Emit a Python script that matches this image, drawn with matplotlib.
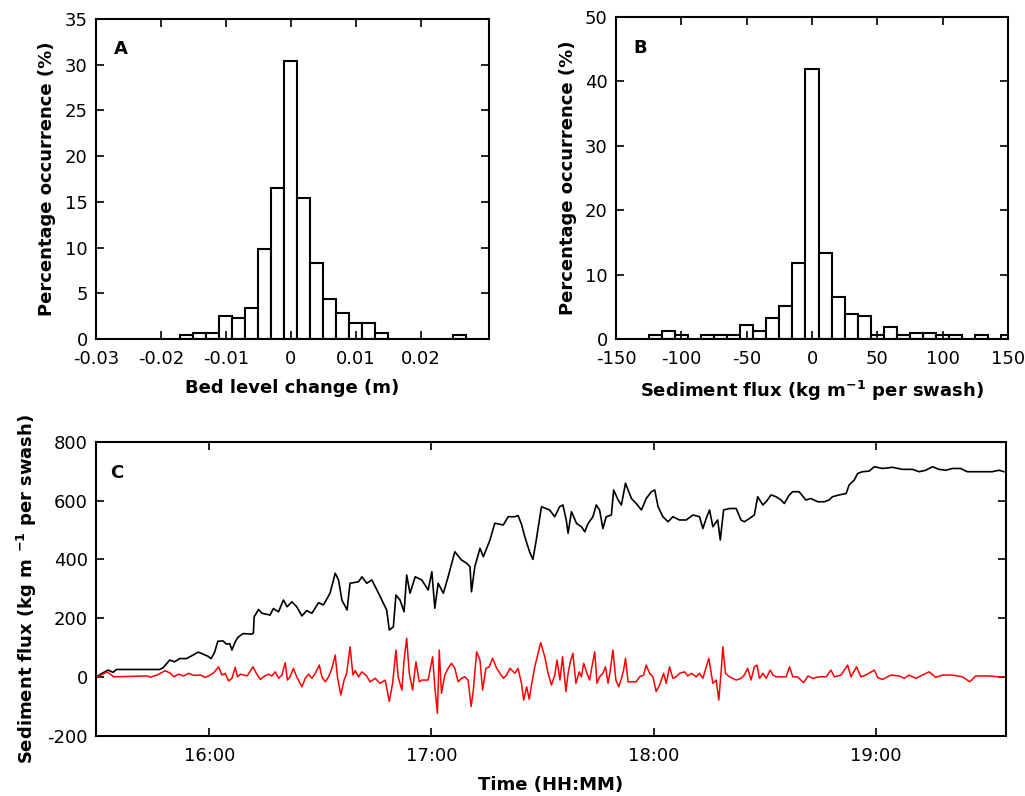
import matplotlib
matplotlib.use('Agg')

matplotlib.rcParams['font.family'] = 'DejaVu Sans'
matplotlib.rcParams['mathtext.fontset'] = 'dejavusans'
matplotlib.rcParams['font.size'] = 13
matplotlib.rcParams['axes.unicode_minus'] = False

import matplotlib.pyplot as plt

# --- panel A: bed level change histogram (bin width 0.002 m)
bed_centres = [-0.016, -0.014, -0.012, -0.010, -0.008, -0.006, -0.004, -0.002,
               0.0, 0.002, 0.004, 0.006, 0.008, 0.010, 0.012, 0.014, 0.026]
bed_pct = [0.45, 0.65, 0.65, 2.55, 2.26, 3.35, 9.9, 16.5,
           30.4, 15.4, 8.35, 4.4, 2.9, 1.7, 1.7, 0.65, 0.45]

# --- panel B: sediment flux histogram (bin width 10)
flux_centres = [-120, -110, -100, -80, -70, -60, -50, -40, -30, -20, -10, 0,
                10, 20, 30, 40, 50, 60, 70, 80, 90, 100, 110, 130, 150]
flux_pct = [0.6, 1.2, 0.6, 0.6, 0.6, 0.6, 2.2, 1.2, 3.3, 5.1, 11.8, 42.0,
            13.3, 6.6, 3.9, 3.6, 0.6, 1.8, 0.6, 0.9, 0.9, 0.6, 0.6, 0.6, 0.6]

# --- panel C: time series, time in minutes after 15:00
cum_t = [29.5, 30.6, 32.7, 34.0, 34.9, 46.6, 47.5, 49.3, 50.6, 52.0, 53.8, 55.6,
         57.0, 58.3, 59.6, 60.5, 61.4, 62.3, 63.7, 64.6, 65.5, 66.1, 67.0, 67.7,
         69.1, 71.3, 71.9, 72.1, 73.3, 74.2, 76.4, 77.3, 78.7, 80.0, 81.0, 82.3,
         83.6, 85.0, 86.3, 87.7, 89.5, 90.8, 92.6, 94.0, 94.9, 95.8, 97.2, 98.0,
         100.3, 101.2, 102.5, 103.9, 105.7, 107.0, 107.9, 108.6, 109.7, 110.4,
         111.5, 112.6, 113.3, 114.2, 115.6, 117.4, 119.1, 120.1, 120.9, 121.8,
         123.2, 124.5, 126.3, 128.1, 129.5, 130.4, 130.8, 131.7, 133.1, 134.0,
         135.8, 137.1, 139.4, 140.7, 142.5, 143.4, 144.3, 145.2, 146.5, 147.4,
         148.3, 149.7, 151.9, 153.3, 154.6, 155.5, 156.4, 156.9, 157.8, 159.2,
         160.5, 161.4, 162.3, 163.6, 164.5, 165.4, 166.3, 167.2, 168.6, 169.2,
         170.4, 171.3, 172.4, 174.0, 175.3, 176.7, 178.0, 179.4, 180.3, 181.2,
         182.5, 183.9, 185.2, 187.0, 188.8, 190.6, 192.4, 193.3, 194.2, 195.1,
         196.0, 197.3, 198.0, 198.9, 200.5, 202.3, 203.6, 204.5, 205.9, 207.2,
         208.1, 209.5, 210.4, 211.7, 213.1, 214.4, 215.3, 216.6, 217.5, 219.3,
         221.1, 222.5, 224.3, 226.1, 227.4, 228.3, 230.1, 232.0, 232.8, 234.2,
         235.1, 236.4, 238.2, 239.6, 241.8, 244.5, 247.2, 249.9, 251.7, 253.5,
         255.3, 257.1, 258.9, 260.7, 262.9, 264.7, 267.9, 271.4, 273.3, 274.6]
cum_flux = [0, 10, 24, 16, 26, 26, 32, 58, 52, 63, 63, 75,
            85, 78, 71, 63, 84, 122, 123, 112, 114, 92, 120, 135,
            148, 146, 149, 205, 230, 217, 211, 233, 222, 262, 239, 256,
            239, 208, 226, 217, 253, 245, 285, 353, 330, 262, 228, 319,
            324, 341, 319, 330, 285, 251, 228, 160, 171, 279,
            262, 222, 347, 285, 341, 330, 296, 358, 234, 319,
            285, 341, 426, 398, 387, 375, 290, 375, 438, 409,
            466, 523, 517, 545, 545, 549, 520, 477, 426, 400,
            466, 579, 568, 545, 579, 585, 534, 489, 562, 522,
            511, 494, 522, 545, 585, 568, 505, 545, 551, 636,
            602, 585, 659, 607, 590, 568, 607, 630, 636, 579,
            545, 528, 545, 534, 534, 551, 545, 505, 539, 568,
            511, 534, 466, 568, 573, 573, 534, 528, 539, 551,
            613, 585, 596, 619, 613, 602, 590, 618, 630, 630,
            602, 607, 596, 596, 602, 613, 619, 624, 653, 670,
            692, 698, 700, 715, 709, 713, 706, 706, 698, 703,
            715, 706, 703, 709, 709, 698, 698, 698, 703, 698]

swash_t = [29.7, 32.4, 34.2, 43.2, 44.1, 45.9, 46.8, 48.1, 49.5, 50.4, 51.7, 53.1,
           54.4, 55.8, 57.6, 58.9, 59.8, 61.2, 62.5, 63.4, 64.3, 65.2, 66.1, 67.0,
           67.6, 68.4, 70.2, 71.8, 72.7, 73.8, 74.6, 76.0, 76.9, 77.8, 78.7, 79.6,
           80.5, 81.1, 81.8, 82.7, 83.6, 85.0, 85.9, 86.8, 87.7, 88.6, 89.7, 90.4,
           91.3, 92.2, 93.1, 94.0, 94.6, 95.5, 96.4, 97.1, 98.0, 98.8, 99.4, 100.3,
           101.2, 102.5, 103.4, 104.8, 106.1, 107.5, 108.6, 109.5, 110.4, 111.0,
           112.0, 112.6, 113.3, 114.0, 114.9, 115.8, 116.7, 117.4, 119.1, 120.3,
           120.9, 121.6, 122.1, 122.7, 123.6, 124.5, 125.4, 126.3, 127.2, 128.1,
           129.0, 129.9, 130.7, 131.3, 132.2, 133.1, 133.8, 134.7, 135.6, 136.5,
           137.6, 138.5, 139.4, 140.3, 141.2, 142.5, 143.4, 144.3, 144.9, 145.7,
           146.4, 147.1, 147.9, 148.8, 149.5, 150.6, 151.5, 152.4, 153.3, 153.9,
           154.7, 155.4, 156.3, 156.9, 157.5, 158.2, 159.0, 159.9, 160.5, 161.1,
           162.0, 162.7, 163.5, 164.1, 164.7, 165.4, 166.3, 167.0, 167.7, 168.3,
           169.0, 169.8, 170.6, 171.3, 171.9, 172.4, 173.1, 174.0, 175.3, 176.2,
           177.3, 178.0, 178.9, 179.8, 180.7, 181.6, 182.7, 183.4, 184.3, 185.2,
           186.1, 187.0, 188.4, 189.2, 190.2, 191.5, 192.4, 193.3, 194.2, 194.9,
           196.0, 196.9, 197.6, 198.2, 198.7, 199.4, 200.5, 202.3, 203.6, 204.5,
           205.4, 206.3, 207.2, 207.9, 208.6, 209.5, 210.4, 211.5, 212.2, 213.1,
           214.4, 215.8, 216.7, 217.6, 218.9, 220.5, 221.7, 223.0, 224.8, 226.6,
           227.9, 228.8, 230.6, 232.4, 233.3, 234.8, 236.0, 237.3, 239.6, 240.5,
           241.8, 244.1, 246.3, 247.7, 249.0, 250.8, 252.6, 254.4, 256.2, 258.0,
           260.7, 263.4, 265.4, 267.0, 270.6, 273.3, 274.6]
swash_flux = [0, 18, 1, 4, 0, 7, 13, 22, 13, 1, 10, 4,
              13, 6, 7, -1, 4, 15, 35, 7, 13, -13, -4, 33,
              1, 10, 4, 35, 13, -8, 1, 10, 4, 18, -4, 7,
              49, -10, 1, 30, 1, -33, -4, 10, -4, 13, 41, 1,
              -16, 1, 30, 75, 1, -61, -10, 13, 103, 7, 22, 1,
              18, 4, -16, -4, -21, -10, -83, -21, 92, 1,
              -44, 58, 132, 13, -44, 52, -16, -10, -10, 69,
              -33, -123, 92, -55, 7, 30, 47, 30, -16, -4,
              1, -10, -100, -44, 86, 58, -44, 30, 35, 64,
              30, 13, -4, 7, 30, 13, 30, -21, -78, -33,
              -75, -21, 35, 81, 117, 69, 13, -27, 7, 58,
              -10, 69, -49, 13, 52, 81, -21, 18, 1, 47,
              13, -10, 47, 86, -21, 1, 13, 35, -21, 24,
              92, -10, -33, -4, 24, 64, -16, -16, -16, 1,
              7, 41, 13, 1, -49, -27, 13, -21, 35, -4,
              1, 13, 18, 4, 13, 1, 13, -4, 35, 64,
              -21, -10, -78, 13, 103, 13, 1, -10, -4, 7,
              30, -10, 35, 41, -4, 13, -4, 24, 7, 1,
              1, 1, 35, 1, 1, -19, 4, -4, 1, 1,
              24, 1, 7, 41, 1, 35, 1, 7, 24, -1,
              -8, 7, 4, -4, 7, -4, 7, 18, -1, 7,
              7, 1, -16, 4, 4, 1, 1]

hour_ticks = [16, 17, 18, 19]


def style_box(ax):
    ax.tick_params(direction='in', top=True, right=True, length=6, width=1.2,
                   labelsize=13)
    ax.tick_params(axis='x', pad=8)
    ax.tick_params(axis='y', pad=6)
    for s in ax.spines.values():
        s.set_linewidth(1.5)


fig = plt.figure(figsize=(10.25, 7.96), dpi=100)

# A
axA = fig.add_axes([0.0937, 0.5741, 0.3834, 0.402])
axA.bar(bed_centres, bed_pct, width=0.002, color='white', edgecolor='black',
        linewidth=1.5)
axA.set_xlim(-0.03, 0.0305)
axA.set_ylim(0, 35)
axA.set_xticks([-0.03, -0.02, -0.01, 0, 0.01, 0.02])
axA.set_xticklabels(['-0.03', '-0.02', '-0.01', '0', '0.01', '0.02'])
axA.set_yticks(range(0, 36, 5))
axA.set_xlabel('Bed level change (m)', fontweight='bold', labelpad=8)
axA.set_ylabel('Percentage occurrence (%)', fontweight='bold', labelpad=6)
axA.text(0.045, 0.905, 'A', transform=axA.transAxes, fontweight='bold',
         va='center', ha='left')
style_box(axA)

# B
axB = fig.add_axes([0.601, 0.5741, 0.3824, 0.4045])
axB.bar(flux_centres, flux_pct, width=10, color='white', edgecolor='black',
        linewidth=1.5)
axB.set_xlim(-150, 150)
axB.set_ylim(0, 50)
axB.set_xticks(range(-150, 151, 50))
axB.set_yticks(range(0, 51, 10))
axB.set_xlabel(r'Sediment flux (kg m$^{\mathbf{-1}}$ per swash)',
               fontweight='bold', labelpad=8)
axB.set_ylabel('Percentage occurrence (%)', fontweight='bold', labelpad=6)
axB.text(0.045, 0.905, 'B', transform=axB.transAxes, fontweight='bold',
         va='center', ha='left')
style_box(axB)

# C
axC = fig.add_axes([0.0937, 0.0754, 0.8875, 0.3697])
axC.plot([t / 60 + 15 for t in cum_t], cum_flux, color='black', lw=1.2)
axC.plot([t / 60 + 15 for t in swash_t], swash_flux, color='red', lw=1.1)
axC.set_xlim(15.49, 19.585)
axC.set_ylim(-200, 800)
axC.set_xticks(hour_ticks)
axC.set_xticklabels(['%d:00' % h for h in hour_ticks])
axC.set_yticks(range(-200, 801, 200))
axC.set_xlabel('Time (HH:MM)', fontweight='bold', labelpad=8)
axC.set_ylabel(r'Sediment flux (kg m $^{\mathbf{-1}}$ per swash)',
               fontweight='bold', labelpad=6)
axC.text(0.016, 0.894, 'C', transform=axC.transAxes, fontweight='bold',
         va='center', ha='left')
style_box(axC)

fig.savefig('out.png', dpi=100)
